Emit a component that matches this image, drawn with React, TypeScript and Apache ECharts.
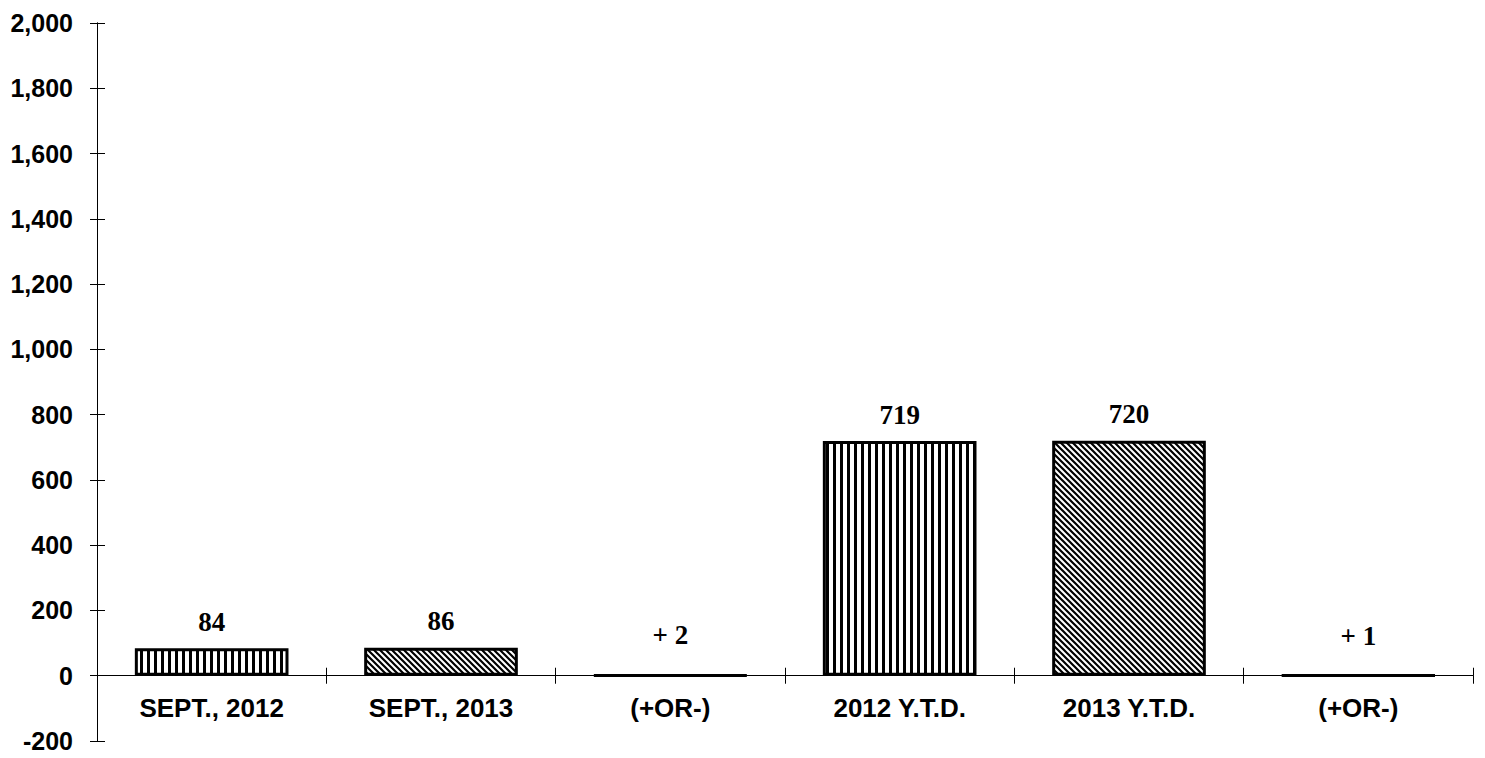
import React, { useEffect, useRef } from "react";
import * as echarts from "echarts";

const categories = ["SEPT., 2012", "SEPT., 2013", "(+OR-)", "2012 Y.T.D.", "2013 Y.T.D.", "(+OR-)"];
const values = [84, 86, 2, 719, 720, 1];
const valueLabels = ["84", "86", "+ 2", "719", "720", "+ 1"];
const patterns = ["vertical", "diagonal", "solid", "vertical", "diagonal", "solid"];
const yTicks = { min: -200, max: 2000, interval: 200 };

const W = 1485;
const H = 758;
const GRID = { left: 97, right: 12, top: 23, bottom: 17 };

function makePattern(kind: string): any {
  if (kind === "solid") return "#000";
  const c = document.createElement("canvas");
  if (kind === "vertical") {
    c.width = 7;
    c.height = 7;
    const ctx = c.getContext("2d")!;
    ctx.fillStyle = "#fff";
    ctx.fillRect(0, 0, 7, 7);
    ctx.fillStyle = "#000";
    ctx.fillRect(0, 0, 3, 7);
    return { image: c, repeat: "repeat", imageWidth: 7, imageHeight: 7 };
  }
  const s = 6;
  c.width = s;
  c.height = s;
  const ctx = c.getContext("2d")!;
  ctx.fillStyle = "#fff";
  ctx.fillRect(0, 0, s, s);
  ctx.strokeStyle = "#000";
  ctx.lineWidth = 2.2;
  ctx.beginPath();
  ctx.moveTo(-1, -1);
  ctx.lineTo(s + 1, s + 1);
  ctx.moveTo(-s - 1, -1);
  ctx.lineTo(1, s + 1);
  ctx.moveTo(s - 1, -1);
  ctx.lineTo(2 * s + 1, s + 1);
  ctx.stroke();
  return { image: c, repeat: "repeat", imageWidth: s, imageHeight: s };
}

export default function App() {
  const ref = useRef<HTMLDivElement>(null);
  useEffect(() => {
    if (!ref.current) return;
    const chart = echarts.init(ref.current, null, { renderer: "svg" });
    const axisFont = { fontFamily: "Liberation Sans, Arial, sans-serif", fontWeight: "bold" as const, fontSize: 26, color: "#000" };
    const gridH = H - GRID.top - GRID.bottom;
    const zeroFromBottom = gridH * (0 - yTicks.min) / (yTicks.max - yTicks.min);
    const zeroFromTop = gridH - zeroFromBottom;
    const data = values.map((v, i) => {
      const small = patterns[i] === "solid";
      return {
        value: v,
        itemStyle: { color: makePattern(patterns[i]), borderColor: "#000", borderWidth: 3 },
        label: { distance: small ? 25 : 13 },
      };
    });
    chart.setOption({
      animation: false,
      backgroundColor: "#fff",
      grid: { ...GRID, containLabel: false, outerBoundsMode: "none" },
      xAxis: [
        {
          type: "category",
          data: categories,
          position: "bottom",
          offset: -zeroFromBottom,
          axisLine: { onZero: false, lineStyle: { color: "#000", width: 1 } },
          axisTick: { show: true, length: 8, lineStyle: { color: "#000" } },
          axisLabel: { ...axisFont, margin: 19, interval: 0 },
          splitLine: { show: false },
        },
        {
          type: "category",
          data: categories,
          position: "top",
          offset: -zeroFromTop,
          axisLine: { onZero: false, lineStyle: { color: "#000", width: 1 } },
          axisTick: { show: true, length: 8, lineStyle: { color: "#000" } },
          axisLabel: { show: false },
          splitLine: { show: false },
        },
      ],
      yAxis: [
        {
          type: "value",
          min: yTicks.min,
          max: yTicks.max,
          interval: yTicks.interval,
          position: "left",
          axisLine: { show: true, onZero: false, lineStyle: { color: "#000", width: 1 } },
          axisTick: { show: true, length: 7, lineStyle: { color: "#000" } },
          axisLabel: { ...axisFont, fontSize: 25, margin: 24, formatter: (v: number) => v.toLocaleString("en-US") },
          splitLine: { show: false },
        },
        {
          type: "value",
          min: yTicks.min,
          max: yTicks.max,
          interval: yTicks.interval,
          position: "left",
          offset: 0,
          axisLine: { show: true, onZero: false, lineStyle: { color: "#000", width: 1 } },
          axisTick: { show: true, inside: true, length: 8, lineStyle: { color: "#000" } },
          axisLabel: { show: false },
          splitLine: { show: false },
        },
      ],
      series: [
        {
          type: "bar",
          xAxisIndex: 0,
          yAxisIndex: 0,
          data,
          barWidth: "67%",
          label: {
            show: true,
            position: "top",
            fontFamily: "Liberation Serif, Times New Roman, serif",
            fontWeight: "bold",
            fontSize: 27,
            color: "#000",
            formatter: (p: any) => valueLabels[p.dataIndex],
          },
        },
      ],
    });
    return () => chart.dispose();
  }, []);
  return <div ref={ref} style={{ position: "fixed", left: 0, top: 0, width: W, height: H, background: "#fff" }} />;
}
